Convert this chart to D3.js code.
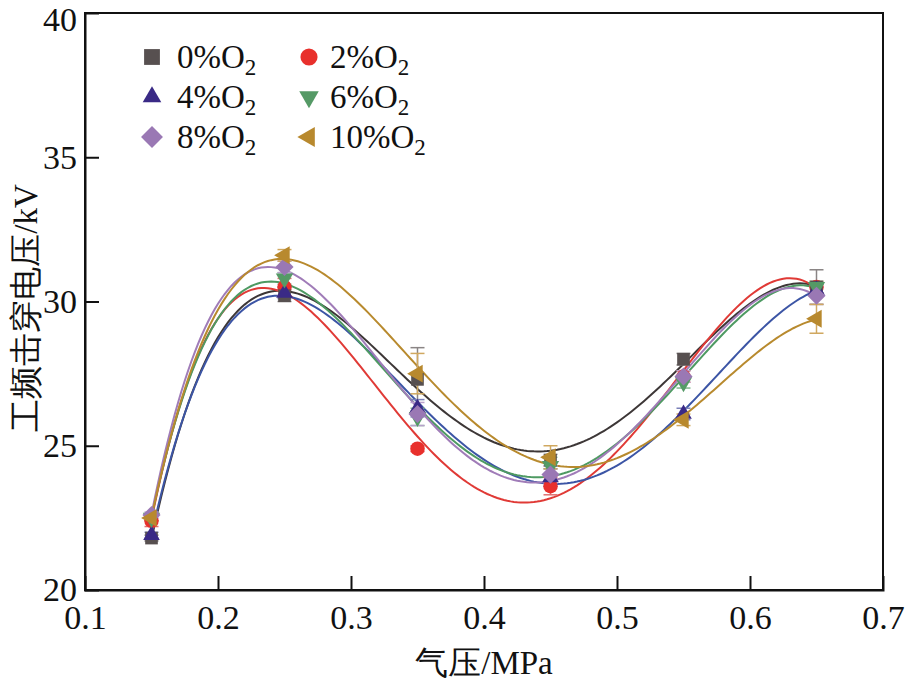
<!DOCTYPE html>
<html><head><meta charset="utf-8">
<script src="https://cdn.jsdelivr.net/npm/d3@7"></script>
<style>body{margin:0;background:#fff} text{font-family:"Liberation Serif","DejaVu Serif",serif}</style>
</head><body>
<svg id="c" width="907" height="685"></svg>
<script>
const pressures = [0.15, 0.25, 0.35, 0.45, 0.55, 0.65];
const seriesNames = ["0%", "2%", "4%", "6%", "8%", "10%"];
const v0 = [21.8, 30.2, 27.3, 24.5, 28.0, 30.5];
const v2 = [22.4, 30.5, 24.9, 23.6, 27.4, 30.5];
const v4 = [21.9, 30.3, 26.3, 23.9, 26.1, 30.4];
const v6 = [22.5, 30.8, 26.0, 24.3, 27.2, 30.5];
const v8 = [22.6, 31.2, 26.1, 24.0, 27.4, 30.2];
const v10 = [22.5, 31.6, 27.5, 24.6, 25.9, 29.4];
const e0 = [0.1, 0.2, 1.1, 0.2, 0.2, 0.6];
const e2 = [0.2, 0.3, 0.1, 0.3, 0.2, 0.2];
const e4 = [0.1, 0.2, 0.3, 0.3, 0.2, 0.2];
const e6 = [0.1, 0.2, 0.3, 0.3, 0.2, 0.2];
const e8 = [0.1, 0.2, 0.4, 0.3, 0.2, 0.3];
const e10 = [0.1, 0.2, 0.7, 0.4, 0.2, 0.5];
const xTicks = [0.1, 0.2, 0.3, 0.4, 0.5, 0.6, 0.7];
const yTicks = [20, 25, 30, 35, 40];

const lineColors = ["#3d3737", "#e03a36", "#3c55a5", "#4e9a62", "#a07cb8", "#b88a2e"];
const markColors = ["#575050", "#e8302c", "#3a2a86", "#559a66", "#9a78b4", "#b8892e"];
const errColors  = ["#8a8585", "#e07070", "#7a80b8", "#80b890", "#b8a0cc", "#d0a860"];

const values = [v0, v2, v4, v6, v8, v10];
const errs = [e0, e2, e4, e6, e8, e10];

const svg = d3.select("#c");
const L = 85, R = 883, T = 13, B = 590;
const x = d3.scaleLinear().domain([0.1, 0.7]).range([L, R]);
const y = d3.scaleLinear().domain([20, 40]).range([B, T]);
const serif = "Liberation Serif, DejaVu Serif, serif";

function polyfit(xs, ys, deg) {
  const n = deg + 1;
  const A = Array.from({length: n}, () => new Array(n + 1).fill(0));
  const xc = xs.map(v => (v - 0.4) * 10);
  for (let i = 0; i < n; i++) {
    for (let j = 0; j < n; j++) A[i][j] = d3.sum(xc, v => Math.pow(v, i + j));
    A[i][n] = d3.sum(xc, (v, k) => Math.pow(v, i) * ys[k]);
  }
  for (let i = 0; i < n; i++) {
    let p = i;
    for (let r = i + 1; r < n; r++) if (Math.abs(A[r][i]) > Math.abs(A[p][i])) p = r;
    [A[i], A[p]] = [A[p], A[i]];
    for (let r = 0; r < n; r++) if (r !== i) {
      const f = A[r][i] / A[i][i];
      for (let c = i; c <= n; c++) A[r][c] -= f * A[i][c];
    }
  }
  const coef = A.map((row, i) => row[n] / row[i]);
  return v => { const t = (v - 0.4) * 10; return coef.reduce((s, c, i) => s + c * Math.pow(t, i), 0); };
}

const markerDefs = [
  [d3.symbolSquare, 0, 160, 250],
  [d3.symbolCircle, 0, 165, 230],
  [d3.symbolTriangle, 0, 120, 150],
  [d3.symbolTriangle, 180, 130, 165],
  [d3.symbolSquare, 45, 165, 240],
  [d3.symbolTriangle, -90, 140, 175]
];

svg.append("rect").attr("x", L).attr("y", T).attr("width", R - L).attr("height", B - T)
  .attr("fill", "none").attr("stroke", "#111").attr("stroke-width", 2);

const xAxis = d3.axisBottom(x).tickValues(xTicks).tickSize(-14).tickPadding(15).tickFormat(d3.format(".1f"));
const gx = svg.append("g").attr("transform", `translate(0,${B})`).call(xAxis);
const yAxis = d3.axisLeft(y).tickValues(yTicks).tickSize(-14).tickPadding(8);
const gy = svg.append("g").attr("transform", `translate(${L},0)`).call(yAxis);
[gx, gy].forEach(g => {
  g.attr("font-family", null).attr("font-size", null);
  g.select(".domain").attr("stroke", "#111").attr("stroke-width", 2);
  g.selectAll(".tick line").attr("stroke", "#111").attr("stroke-width", 2);
  g.selectAll(".tick text").style("font-family", serif).style("font-size", "34px").attr("fill", "#111");
});
gy.selectAll(".tick").filter(d => d === 40).select("text").attr("dy", "0.38em").attr("y", 5);
gx.selectAll(".tick").filter(d => d === 0.1 || d === 0.7).select("line").remove();
gy.selectAll(".tick").filter(d => d === 20 || d === 40).select("line").remove();

svg.append("text").attr("x", 484).attr("y", 674).attr("text-anchor", "middle")
  .style("font-family", serif).style("font-size", "33px").attr("fill", "#111")
  .text("气压/MPa");
svg.append("text").attr("transform", `translate(37,308) rotate(-90)`)
  .attr("text-anchor", "middle").style("font-family", serif).style("font-size", "33px").attr("fill", "#111")
  .text("工频击穿电压/kV");

const plot = svg.append("g");
values.forEach((vals, i) => {
  const f = polyfit(pressures, vals, 4);
  const pts = d3.range(0.15, 0.65001, 0.0025).map(p => [p, f(p)]);
  plot.append("path").datum(pts)
    .attr("d", d3.line().x(d => x(d[0])).y(d => y(d[1])))
    .attr("fill", "none").attr("stroke", lineColors[i]).attr("stroke-width", 2);
});

values.forEach((vals, i) => {
  const g = plot.append("g").attr("stroke", errColors[i]).attr("stroke-width", 1.5);
  vals.forEach((v, k) => {
    const cx = x(pressures[k]), e = errs[i][k];
    g.append("line").attr("x1", cx).attr("x2", cx).attr("y1", y(v - e)).attr("y2", y(v + e));
    g.append("line").attr("x1", cx - 7).attr("x2", cx + 7).attr("y1", y(v - e)).attr("y2", y(v - e));
    g.append("line").attr("x1", cx - 7).attr("x2", cx + 7).attr("y1", y(v + e)).attr("y2", y(v + e));
  });
});

// draw markers with 2% first so it sits beneath the cluster
const markerOrder = [1, 0, 2, 3, 4, 5];
markerOrder.forEach(i => {
  const vals = values[i];
  const [sym, rot, size] = markerDefs[i];
  plot.append("g").selectAll("path").data(vals).join("path")
    .attr("d", d3.symbol(sym, size)())
    .attr("transform", (v, k) => `translate(${x(pressures[k])},${y(v)}) rotate(${rot})`)
    .attr("fill", markColors[i]);
});

const legX = [152, 309], legTextX = [177, 330], legY = [57, 97, 137];
seriesNames.forEach((name, i) => {
  const col = i % 2, row = Math.floor(i / 2);
  const [sym, rot, , lsize] = markerDefs[i];
  svg.append("path").attr("d", d3.symbol(sym, lsize)())
    .attr("transform", `translate(${legX[col]},${legY[row]}) rotate(${rot})`)
    .attr("fill", markColors[i]);
  const t = svg.append("text").attr("x", legTextX[col]).attr("y", legY[row] + 11)
    .style("font-family", serif).style("font-size", "33px").attr("fill", "#111");
  t.append("tspan").text(name + "O");
  t.append("tspan").attr("dy", 7).style("font-size", "23px").text("2");
});
</script>
</body></html>
